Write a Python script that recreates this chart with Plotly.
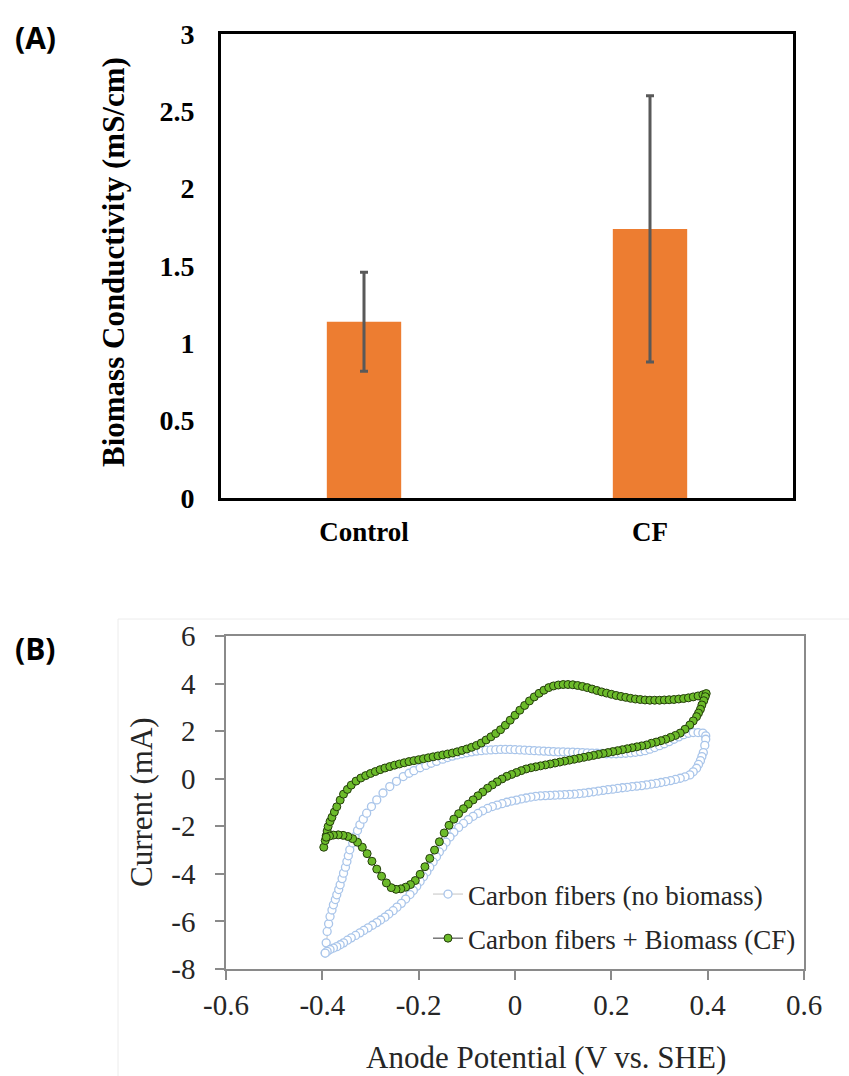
import plotly.graph_objects as go

# ---------------- Panel A: biomass conductivity ----------------
categories = ["Control", "CF"]
conductivity = [1.14, 1.74]          # mS/cm
conductivity_sd = [0.32, 0.86]       # error bar half-length
a_tickvals = [0, 0.5, 1, 1.5, 2, 2.5, 3]
a_ticktext = ["0", "0.5", "1", "1.5", "2", "2.5", "3"]

# ---------------- Panel B: cyclic voltammograms ----------------
# Carbon fibers + biomass (CF): anodic sweep then cathodic sweep
cf_v_fwd = [-0.397, -0.394, -0.392, -0.390, -0.388, -0.384, -0.380, -0.375, -0.370, -0.363,
            -0.356, -0.348, -0.340, -0.330, -0.320, -0.310, -0.300, -0.290, -0.280, -0.270,
            -0.260, -0.250, -0.240, -0.230, -0.220, -0.210, -0.200, -0.190, -0.180, -0.170,
            -0.160, -0.150, -0.140, -0.130, -0.120, -0.110, -0.100, -0.090, -0.080, -0.070,
            -0.060, -0.050, -0.040, -0.030, -0.020, -0.010, 0.000, 0.010, 0.020, 0.030,
            0.040, 0.050, 0.060, 0.070, 0.080, 0.090, 0.100, 0.110, 0.120, 0.130,
            0.140, 0.150, 0.160, 0.170, 0.180, 0.190, 0.200, 0.210, 0.220, 0.230,
            0.240, 0.250, 0.260, 0.270, 0.280, 0.290, 0.300, 0.310, 0.320, 0.330,
            0.340, 0.350, 0.360, 0.370, 0.380, 0.390, 0.397]
cf_i_fwd = [-2.88, -2.60, -2.40, -2.20, -2.01, -1.80, -1.62, -1.40, -1.18, -0.90,
            -0.65, -0.45, -0.27, -0.10, 0.03, 0.13, 0.22, 0.30, 0.38, 0.45,
            0.51, 0.57, 0.62, 0.67, 0.72, 0.76, 0.80, 0.84, 0.88, 0.92,
            0.96, 1.00, 1.04, 1.08, 1.13, 1.19, 1.25, 1.32, 1.40, 1.50,
            1.63, 1.76, 1.90, 2.06, 2.25, 2.46, 2.67, 2.88, 3.08, 3.27,
            3.44, 3.59, 3.72, 3.83, 3.90, 3.94, 3.96, 3.96, 3.95, 3.92,
            3.88, 3.83, 3.77, 3.71, 3.65, 3.60, 3.55, 3.50, 3.46, 3.42,
            3.38, 3.35, 3.33, 3.31, 3.30, 3.30, 3.30, 3.31, 3.32, 3.33,
            3.35, 3.37, 3.40, 3.44, 3.48, 3.53, 3.58]
cf_v_rev = [0.395, 0.392, 0.388, 0.385, 0.381, 0.377, 0.370, 0.363, 0.353, 0.343,
            0.333, 0.323, 0.313, 0.303, 0.293, 0.283, 0.273, 0.263, 0.253, 0.243,
            0.233, 0.223, 0.213, 0.203, 0.193, 0.183, 0.173, 0.163, 0.153, 0.143,
            0.133, 0.123, 0.113, 0.103, 0.093, 0.083, 0.073, 0.063, 0.053, 0.043,
            0.033, 0.023, 0.013, 0.003, -0.007, -0.017, -0.027, -0.037, -0.047, -0.057,
            -0.067, -0.077, -0.087, -0.097, -0.107, -0.117, -0.127, -0.137, -0.147, -0.157,
            -0.167, -0.177, -0.187, -0.197, -0.207, -0.217, -0.227, -0.237, -0.247, -0.257,
            -0.267, -0.277, -0.287, -0.297, -0.307, -0.317, -0.327, -0.337, -0.347, -0.357,
            -0.367, -0.377, -0.385, -0.392]
cf_i_rev = [3.45, 3.28, 3.10, 2.92, 2.76, 2.61, 2.43, 2.26, 2.08, 1.92,
            1.82, 1.74, 1.66, 1.60, 1.54, 1.49, 1.42, 1.38, 1.34, 1.30,
            1.26, 1.22, 1.18, 1.14, 1.10, 1.06, 1.02, 0.98, 0.94, 0.90,
            0.86, 0.82, 0.78, 0.74, 0.70, 0.66, 0.62, 0.58, 0.54, 0.50,
            0.46, 0.41, 0.34, 0.26, 0.18, 0.10, -0.01, -0.13, -0.26, -0.40,
            -0.56, -0.72, -0.89, -1.07, -1.26, -1.47, -1.70, -1.96, -2.28, -2.65,
            -3.00, -3.35, -3.70, -4.02, -4.28, -4.45, -4.56, -4.63, -4.65, -4.58,
            -4.38, -4.10, -3.80, -3.47, -3.15, -2.88, -2.67, -2.52, -2.43, -2.38,
            -2.36, -2.37, -2.41, -2.46]

# Bare carbon fibers (no biomass)
fib_v_fwd = [-0.394, -0.392, -0.390, -0.387, -0.384, -0.380, -0.377, -0.373, -0.370, -0.366,
             -0.363, -0.359, -0.356, -0.352, -0.349, -0.346, -0.343, -0.337, -0.332, -0.327,
             -0.322, -0.315, -0.308, -0.298, -0.287, -0.274, -0.260, -0.246, -0.232, -0.220,
             -0.210, -0.197, -0.185, -0.174, -0.163, -0.150, -0.140, -0.130, -0.120, -0.110,
             -0.100, -0.090, -0.080, -0.070, -0.060, -0.050, -0.040, -0.030, -0.020, -0.010,
             0.000, 0.010, 0.020, 0.030, 0.040, 0.050, 0.060, 0.070, 0.080, 0.090,
             0.100, 0.110, 0.120, 0.130, 0.140, 0.150, 0.160, 0.170, 0.180, 0.190,
             0.200, 0.210, 0.220, 0.230, 0.240, 0.250, 0.260, 0.270, 0.280, 0.290,
             0.300, 0.310, 0.320, 0.330, 0.340, 0.350, 0.360, 0.370, 0.380, 0.390,
             0.396]
fib_i_fwd = [-7.33, -6.90, -6.42, -6.10, -5.79, -5.52, -5.30, -5.08, -4.88, -4.66,
             -4.46, -4.20, -3.97, -3.72, -3.48, -3.24, -2.99, -2.70, -2.43, -2.18,
             -1.94, -1.70, -1.45, -1.17, -0.89, -0.60, -0.33, -0.11, 0.09, 0.23,
             0.34, 0.46, 0.56, 0.65, 0.73, 0.82, 0.89, 0.95, 1.00, 1.05,
             1.09, 1.13, 1.16, 1.18, 1.20, 1.21, 1.22, 1.23, 1.23, 1.23,
             1.22, 1.21, 1.20, 1.19, 1.18, 1.17, 1.16, 1.15, 1.14, 1.13,
             1.13, 1.12, 1.12, 1.11, 1.10, 1.09, 1.08, 1.07, 1.06, 1.05,
             1.05, 1.05, 1.06, 1.07, 1.09, 1.11, 1.14, 1.18, 1.24, 1.31,
             1.39, 1.47, 1.56, 1.66, 1.76, 1.85, 1.91, 1.94, 1.94, 1.92,
             1.80]
fib_v_rev = [0.396, 0.394, 0.391, 0.388, 0.385, 0.381, 0.377, 0.370, 0.363, 0.353,
             0.343, 0.333, 0.323, 0.313, 0.303, 0.293, 0.283, 0.273, 0.263, 0.253,
             0.243, 0.233, 0.223, 0.213, 0.203, 0.193, 0.183, 0.173, 0.163, 0.153,
             0.143, 0.133, 0.123, 0.113, 0.103, 0.093, 0.083, 0.073, 0.063, 0.053,
             0.043, 0.033, 0.023, 0.013, 0.003, -0.007, -0.017, -0.027, -0.037, -0.047,
             -0.057, -0.067, -0.077, -0.087, -0.097, -0.107, -0.117, -0.127, -0.135, -0.143,
             -0.150, -0.157, -0.163, -0.170, -0.177, -0.183, -0.190, -0.197, -0.204, -0.211,
             -0.218, -0.227, -0.236, -0.245, -0.253, -0.262, -0.270, -0.279, -0.287, -0.296,
             -0.305, -0.314, -0.322, -0.331, -0.340, -0.348, -0.356, -0.363, -0.370, -0.377,
             -0.384, -0.390, -0.394]
fib_i_rev = [1.66, 1.40, 1.10, 0.93, 0.76, 0.60, 0.44, 0.29, 0.16, 0.08,
             0.02, -0.03, -0.08, -0.12, -0.16, -0.20, -0.23, -0.26, -0.29, -0.31,
             -0.33, -0.36, -0.38, -0.41, -0.44, -0.46, -0.49, -0.52, -0.55, -0.58,
             -0.61, -0.63, -0.65, -0.66, -0.67, -0.68, -0.69, -0.70, -0.71, -0.72,
             -0.74, -0.77, -0.81, -0.85, -0.90, -0.94, -0.99, -1.05, -1.11, -1.17,
             -1.25, -1.35, -1.46, -1.58, -1.72, -1.88, -2.05, -2.25, -2.45, -2.67,
             -2.88, -3.08, -3.28, -3.50, -3.72, -3.92, -4.12, -4.32, -4.52, -4.70,
             -4.87, -5.06, -5.24, -5.40, -5.55, -5.69, -5.82, -5.94, -6.05, -6.16,
             -6.27, -6.38, -6.48, -6.59, -6.69, -6.79, -6.90, -6.98, -7.06, -7.12,
             -7.18, -7.26, -7.33]

b_xtickvals = [-0.6, -0.4, -0.2, 0, 0.2, 0.4, 0.6]
b_xticktext = ["-0.6", "-0.4", "-0.2", "0", "0.2", "0.4", "0.6"]
b_ytickvals = [-8, -6, -4, -2, 0, 2, 4, 6]
b_yticktext = ["-8", "-6", "-4", "-2", "0", "2", "4", "6"]

W, H = 849, 1076


def px(x):
    return x / W


def py(y):
    return 1 - y / H


SERIF = "Liberation Serif"
SANS = "Open Sans"

fig = go.Figure()

fig.add_trace(go.Bar(
    x=categories, y=conductivity, width=0.26,
    marker=dict(color="#ED7D31", line=dict(width=0)),
    error_y=dict(type="data", array=conductivity_sd, visible=True,
                 color="#595959", thickness=3, width=4),
    xaxis="x", yaxis="y", showlegend=False,
))

fig.add_trace(go.Scatter(
    x=fib_v_fwd + fib_v_rev, y=fib_i_fwd + fib_i_rev,
    mode="lines+markers", name="Carbon fibers (no biomass)",
    line=dict(color="#c4c4c4", width=1),
    marker=dict(symbol="circle", size=8, color="white",
                line=dict(color="#a9c5ea", width=1.3)),
    xaxis="x2", yaxis="y2", legendgroup="a",
))

fig.add_trace(go.Scatter(
    x=cf_v_fwd + cf_v_rev, y=cf_i_fwd + cf_i_rev,
    mode="lines+markers", name="Carbon fibers + Biomass (CF)",
    line=dict(color="#333333", width=1),
    marker=dict(symbol="circle", size=8, color="#6cbb2a",
                line=dict(color="#243d0c", width=1)),
    xaxis="x2", yaxis="y2", legendgroup="b",
))

bold_tick = dict(family=SERIF, size=28, color="black", weight="bold")
reg_tick = dict(family=SERIF, size=29, color="#262626")


def note(text, x, y, font, angle=0):
    return dict(text=text, x=px(x), y=py(y), xref="paper", yref="paper",
                xanchor="center", yanchor="middle", showarrow=False,
                textangle=angle, font=font)


fig.update_layout(
    template="none",
    width=W, height=H, autosize=False,
    margin=dict(l=0, r=0, t=0, b=0, pad=0),
    paper_bgcolor="white", plot_bgcolor="white",
    bargap=0.74,
    xaxis=dict(domain=[px(221), px(793)], anchor="y", range=[-0.5, 1.5],
               automargin=False,
               showline=True, mirror=True, linecolor="black", linewidth=3,
               ticks="", showgrid=False, zeroline=False,
               tickfont=dict(family=SERIF, size=27, color="black", weight="bold"),
               ticklabelstandoff=8),
    yaxis=dict(domain=[py(498), py(34)], anchor="x", range=[0, 3],
               automargin=False,
               tickvals=a_tickvals, ticktext=a_ticktext,
               showline=True, mirror=True, linecolor="black", linewidth=3,
               ticks="", showgrid=False, zeroline=False,
               tickfont=bold_tick, ticklabelstandoff=18),
    xaxis2=dict(domain=[px(226), px(804)], anchor="y2", range=[-0.6, 0.6],
                automargin=False,
                tickvals=b_xtickvals, ticktext=b_xticktext,
                showline=True, mirror=True, linecolor="#8a8a8a", linewidth=1.5,
                ticks="outside", ticklen=9, tickwidth=1.5, tickcolor="#8a8a8a",
                showgrid=False, zeroline=False, tickfont=reg_tick,
                ticklabelstandoff=0),
    yaxis2=dict(domain=[py(969), py(636)], anchor="x2", range=[-8, 6],
                automargin=False,
                tickvals=b_ytickvals, ticktext=b_yticktext,
                showline=True, mirror=True, linecolor="#8a8a8a", linewidth=1.5,
                ticks="outside", ticklen=9, tickwidth=1.5, tickcolor="#8a8a8a",
                showgrid=False, zeroline=False, tickfont=reg_tick,
                ticklabelstandoff=14),
    legend=dict(x=px(428), y=py(870), xanchor="left", yanchor="top",
                font=dict(family=SERIF, size=27, color="#262626"),
                bgcolor="rgba(0,0,0,0)", borderwidth=0,
                traceorder="grouped", tracegroupgap=6, itemwidth=30),
    shapes=[dict(type="rect", xref="paper", yref="paper",
                 x0=px(118), x1=px(880), y0=py(619), y1=py(1100),
                 line=dict(color="#ececec", width=1), layer="below")],
    annotations=[
        note("(A)", 35, 38, dict(family=SANS, size=30, color="black", weight="bold")),
        note("(B)", 35, 648, dict(family=SANS, size=30, color="black", weight="bold")),
        note("Biomass Conductivity (mS/cm)", 114, 262,
             dict(family=SERIF, size=31, color="black", weight="bold"), -90),
        note("Current (mA)", 141, 802,
             dict(family=SERIF, size=31, color="#262626"), -90),
        note("Anode Potential (V vs. SHE)", 546, 1057,
             dict(family=SERIF, size=31, color="#262626")),
    ],
)

fig.write_html("out.html")
